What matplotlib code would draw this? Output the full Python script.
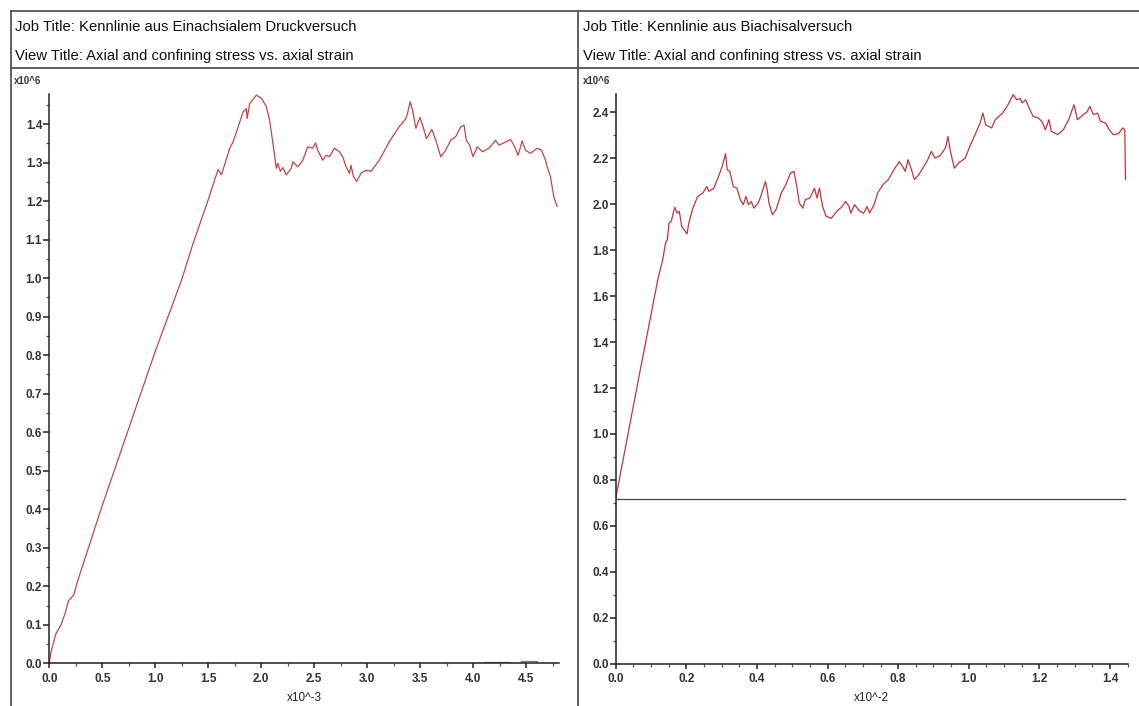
import matplotlib
matplotlib.use('Agg')
import matplotlib.pyplot as plt
from matplotlib.lines import Line2D
from matplotlib.ticker import MultipleLocator, FormatStrFormatter

# ---------------- data ----------------
left_job_title = "Job Title: Kennlinie aus Einachsialem Druckversuch"
right_job_title = "Job Title: Kennlinie aus Biachisalversuch"
view_title = "View Title: Axial and confining stress vs. axial strain"

# left panel: axial strain (x10^-3), axial stress (x10^6)
strain1 = [0.0, 0.013, 0.06, 0.11, 0.15, 0.18, 0.23, 0.27, 0.5, 0.75, 1.0, 1.248, 1.357, 1.499,
           1.593, 1.624, 1.646, 1.703, 1.734, 1.772, 1.829, 1.860, 1.866, 1.891, 1.954, 2.001,
           2.048, 2.079, 2.110, 2.142, 2.157, 2.180, 2.204, 2.236, 2.283, 2.298, 2.345, 2.392,
           2.439, 2.486, 2.512, 2.533, 2.580, 2.612, 2.643, 2.690, 2.737, 2.769, 2.800, 2.832,
           2.847, 2.869, 2.901, 2.941, 2.989, 3.036, 3.114, 3.208, 3.302, 3.365, 3.380, 3.405,
           3.427, 3.459, 3.497, 3.527, 3.559, 3.610, 3.647, 3.694, 3.741, 3.788, 3.835, 3.883,
           3.914, 3.935, 3.966, 3.998, 4.039, 4.086, 4.149, 4.211, 4.243, 4.290, 4.353, 4.384,
           4.424, 4.462, 4.493, 4.541, 4.603, 4.644, 4.682, 4.698, 4.729, 4.760, 4.792]
axial1 = [0.0, 0.026, 0.075, 0.100, 0.130, 0.162, 0.177, 0.216, 0.41, 0.61, 0.81, 0.995, 1.090, 1.203,
          1.282, 1.268, 1.287, 1.337, 1.354, 1.384, 1.432, 1.440, 1.414, 1.453, 1.475, 1.467,
          1.445, 1.410, 1.350, 1.285, 1.298, 1.277, 1.287, 1.268, 1.285, 1.302, 1.289, 1.306,
          1.341, 1.337, 1.351, 1.332, 1.306, 1.319, 1.315, 1.337, 1.328, 1.315, 1.289, 1.272,
          1.293, 1.264, 1.251, 1.272, 1.280, 1.277, 1.306, 1.354, 1.393, 1.414, 1.427, 1.458,
          1.437, 1.389, 1.417, 1.393, 1.362, 1.386, 1.358, 1.315, 1.332, 1.358, 1.367, 1.393,
          1.397, 1.358, 1.345, 1.315, 1.341, 1.328, 1.337, 1.358, 1.345, 1.351, 1.360, 1.345,
          1.319, 1.356, 1.332, 1.324, 1.337, 1.332, 1.306, 1.289, 1.264, 1.212, 1.186]
# left panel confining stress (x10^6)
conf_strain1 = [0.0, 4.10, 4.10, 4.35, 4.35, 4.45, 4.45, 4.60, 4.60, 4.79]
conf1 = [0.0, 0.0, 0.004, 0.004, 0.0, 0.0, 0.005, 0.005, 0.0, 0.0]

# right panel: axial strain (x10^-2), axial stress (x10^6)
strain2 = [0.0, 0.064, 0.119, 0.133, 0.141, 0.146, 0.151, 0.157, 0.167, 0.174, 0.180, 0.187,
           0.197, 0.202, 0.207, 0.217, 0.232, 0.247, 0.258, 0.264, 0.278, 0.293, 0.303, 0.311,
           0.316, 0.323, 0.333, 0.343, 0.353, 0.361, 0.369, 0.376, 0.384, 0.391, 0.404, 0.414,
           0.424, 0.429, 0.434, 0.444, 0.454, 0.469, 0.482, 0.495, 0.505, 0.513, 0.520, 0.530,
           0.537, 0.550, 0.563, 0.570, 0.577, 0.586, 0.596, 0.611, 0.626, 0.641, 0.651, 0.661,
           0.666, 0.676, 0.692, 0.702, 0.712, 0.719, 0.732, 0.742, 0.757, 0.772, 0.788, 0.803,
           0.813, 0.820, 0.828, 0.838, 0.846, 0.858, 0.870, 0.884, 0.894, 0.904, 0.919, 0.934,
           0.941, 0.947, 0.959, 0.971, 0.990, 1.005, 1.020, 1.032, 1.040, 1.048, 1.065, 1.075,
           1.096, 1.111, 1.126, 1.136, 1.146, 1.151, 1.161, 1.171, 1.182, 1.197, 1.207, 1.217,
           1.227, 1.234, 1.252, 1.268, 1.283, 1.298, 1.308, 1.324, 1.334, 1.343, 1.353, 1.365,
           1.373, 1.388, 1.398, 1.409, 1.424, 1.436, 1.442, 1.444]
axial2 = [0.72, 1.235, 1.671, 1.758, 1.831, 1.845, 1.918, 1.925, 1.986, 1.962, 1.969, 1.903,
          1.882, 1.871, 1.918, 1.976, 2.034, 2.049, 2.077, 2.056, 2.070, 2.128, 2.172, 2.220,
          2.150, 2.143, 2.077, 2.070, 2.020, 1.998, 2.034, 1.998, 2.012, 1.983, 2.005, 2.049,
          2.099, 2.063, 2.005, 1.954, 1.976, 2.049, 2.085, 2.136, 2.143, 2.077, 2.005, 1.983,
          2.020, 2.027, 2.070, 2.027, 2.070, 1.990, 1.947, 1.939, 1.969, 1.990, 2.012, 1.990,
          1.961, 1.998, 1.969, 1.961, 1.990, 1.962, 1.998, 2.049, 2.085, 2.107, 2.150, 2.186,
          2.164, 2.143, 2.194, 2.150, 2.107, 2.128, 2.157, 2.194, 2.230, 2.201, 2.212, 2.245,
          2.295, 2.238, 2.157, 2.179, 2.201, 2.259, 2.310, 2.353, 2.397, 2.346, 2.332, 2.368,
          2.397, 2.433, 2.477, 2.455, 2.460, 2.441, 2.455, 2.419, 2.383, 2.375, 2.361, 2.324,
          2.368, 2.317, 2.303, 2.324, 2.368, 2.433, 2.368, 2.390, 2.400, 2.426, 2.390, 2.397,
          2.361, 2.353, 2.324, 2.303, 2.307, 2.332, 2.324, 2.107]
# right panel confining stress (x10^6)
conf_strain2 = [0.0, 1.444]
conf2 = [0.718, 0.718]

x_labels = ["x10^-3", "x10^-2"]
y_label = "x10^6"

# ---------------- figure ----------------
W, H = 1139, 706
fig = plt.figure(figsize=(W / 100, H / 100), dpi=100)
fig.patch.set_facecolor('white')


def fx(x):
    return x / W


def fy(y):
    return 1 - y / H


frame_col = '#555555'
for (x0, y0, x1, y1) in [(11, 11, W, 11), (11, 68, W, 68), (11, 11, 11, H), (578, 11, 578, H)]:
    fig.add_artist(Line2D([fx(x0), fx(x1)], [fy(y0), fy(y1)], color=frame_col, lw=1.3,
                          transform=fig.transFigure))

title_kw = dict(fontsize=10.7, family='Liberation Sans', color='#111111', va='center', ha='left')
fig.text(fx(15), fy(27), left_job_title, **title_kw)
fig.text(fx(15), fy(56), view_title, **title_kw)
fig.text(fx(583), fy(27), right_job_title, **title_kw)
fig.text(fx(583), fy(56), view_title, **title_kw)

tick_font = dict(family='Liberation Sans', weight='bold', size=8.5)


def setup(ax, xmax, ymax, xmaj, xmin, ymaj, ymin, xlabel):
    ax.set_xlim(0, xmax)
    ax.set_ylim(0, ymax)
    for s in ['top', 'right']:
        ax.spines[s].set_visible(False)
    for s in ['left', 'bottom']:
        ax.spines[s].set_linewidth(1.1)
        ax.spines[s].set_color('#222222')
    ax.xaxis.set_major_locator(MultipleLocator(xmaj))
    ax.xaxis.set_minor_locator(MultipleLocator(xmin))
    ax.yaxis.set_major_locator(MultipleLocator(ymaj))
    ax.yaxis.set_minor_locator(MultipleLocator(ymin))
    ax.xaxis.set_major_formatter(FormatStrFormatter('%.1f'))
    ax.yaxis.set_major_formatter(FormatStrFormatter('%.1f'))
    ax.tick_params(axis='y', which='major', length=4.3, width=1.1, pad=0.8, colors='#222222',
                   labelcolor='#333333')
    ax.tick_params(axis='x', which='major', length=3.5, width=1.1, pad=3.5, colors='#222222',
                   labelcolor='#333333')
    ax.tick_params(which='minor', length=2.2, width=0.9, colors='#555555')
    for lab in ax.get_xticklabels() + ax.get_yticklabels():
        lab.set_fontproperties(tick_font)
        lab.set_fontsize(8.5)
    ax.set_xlabel(xlabel, fontsize=8.5, family='Liberation Sans', color='#222222', labelpad=5)


ax1 = fig.add_axes([0.0433, 0.0605, 0.4475, 0.8064])
ax1.plot(conf_strain1, conf1, color='#777777', lw=0.9)
ax1.plot(strain1, axial1, color='#c84444', lw=0.9)
setup(ax1, 4.81, 1.478, 0.5, 0.25, 0.1, 0.05, x_labels[0])

ax2 = fig.add_axes([0.5406, 0.0599, 0.4494, 0.807])
ax2.plot(conf_strain2, conf2, color='#444444', lw=0.9)
ax2.plot(strain2, axial2, color='#c43535', lw=0.9)
setup(ax2, 1.45, 2.48, 0.2, 0.05, 0.2, 0.1, x_labels[1])

lab_kw = dict(fontsize=7, family='Liberation Sans', weight='bold', color='#333333',
              va='center', ha='left')
fig.text(fx(14), fy(81), y_label, **lab_kw)
fig.text(fx(583), fy(81), y_label, **lab_kw)

fig.savefig('out.png', dpi=100, facecolor='white')
